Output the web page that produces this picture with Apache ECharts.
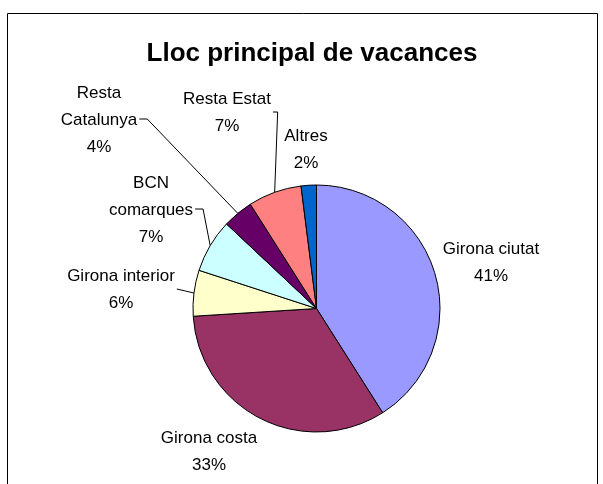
<!DOCTYPE html>
<html>
<head>
<meta charset="utf-8">
<script src="https://cdn.jsdelivr.net/npm/echarts@6/dist/echarts.min.js"></script>
<style>
  html, body { margin: 0; padding: 0; background: #fff; }
  #chart { width: 603px; height: 484px; }
</style>
</head>
<body>
<div id="chart"></div>
<script>
// Destinations (label text keeps its line breaks) and their shares, in %
const categories = ['Girona ciutat', 'Girona costa', 'Girona interior', 'BCN\ncomarques', 'Resta\nCatalunya', 'Resta Estat', 'Altres'];
const shares = [41, 33, 6, 7, 4, 7, 2];
const sliceColors = ['#9999FF', '#993366', '#FFFFCC', '#CCFFFF', '#660066', '#FF8080', '#0066CC'];

// Where each label block sits (centre, px) and how its leader line is drawn
const labelSpots = [[491, 263], [209, 452], [121, 290], [151, 210], [99, 120], [227, 113], [306, 150]];
const leaderKinds = ['none', 'none', 'direct', 'elbow', 'elbow', 'drop', 'none'];

const labelFont = '"Liberation Sans", Arial, sans-serif';

const chart = echarts.init(document.getElementById('chart'), null, { renderer: 'canvas' });

chart.setOption({
  animation: false,
  backgroundColor: '#ffffff',
  title: {
    text: 'Lloc principal de vacances',
    left: 307,
    top: 36,
    textAlign: 'center',
    textStyle: {
      fontFamily: '"Liberation Sans", Arial, sans-serif',
      fontWeight: 'bold',
      fontSize: 26,
      color: '#000'
    }
  },
  graphic: [{
    type: 'rect',
    shape: { x: 7.5, y: 13.5, width: 590, height: 500 },
    style: { fill: 'none', stroke: '#000', lineWidth: 1 },
    silent: true
  }],
  series: [{
    type: 'pie',
    center: [316.5, 308.5],
    radius: 123.5,
    startAngle: 90,
    clockwise: true,
    avoidLabelOverlap: false,
    data: categories.map((name, i) => ({
      name: name,
      value: shares[i],
      itemStyle: { color: sliceColors[i] },
      labelLine: { show: leaderKinds[i] !== 'none' }
    })),
    itemStyle: { borderColor: '#000', borderWidth: 1 },
    label: {
      show: true,
      position: 'outside',
      fontFamily: labelFont,
      fontSize: 17,
      lineHeight: 27,
      color: '#000',
      align: 'center',
      formatter: p => p.name + '\n' + Math.round(p.percent) + '%'
    },
    labelLine: {
      lineStyle: { color: '#000', width: 1 }
    },
    labelLayout: function (params) {
      const i = params.dataIndex;
      const spot = labelSpots[i];
      const out = { x: spot[0], y: spot[1], align: 'center', verticalAlign: 'middle' };
      const pts = params.labelLinePoints;
      const kind = leaderKinds[i];
      if (kind !== 'none' && pts && pts.length) {
        const edge = pts[0];
        const w = params.labelRect.width;
        const end = [spot[0] + w / 2 + 2, spot[1] - 1];
        if (kind === 'elbow') {
          out.labelLinePoints = [edge, [end[0] + 8, end[1]], end];
        } else if (kind === 'drop') {
          // short tick to the right, then straight down to the slice
          out.labelLinePoints = [edge, [Math.max(edge[0] + 3, end[0] + 4), end[1]], end];
        } else {
          const mid = [(edge[0] + end[0]) / 2, (edge[1] + end[1]) / 2];
          out.labelLinePoints = [edge, mid, end];
        }
      }
      return out;
    }
  }]
});
</script>
</body>
</html>
